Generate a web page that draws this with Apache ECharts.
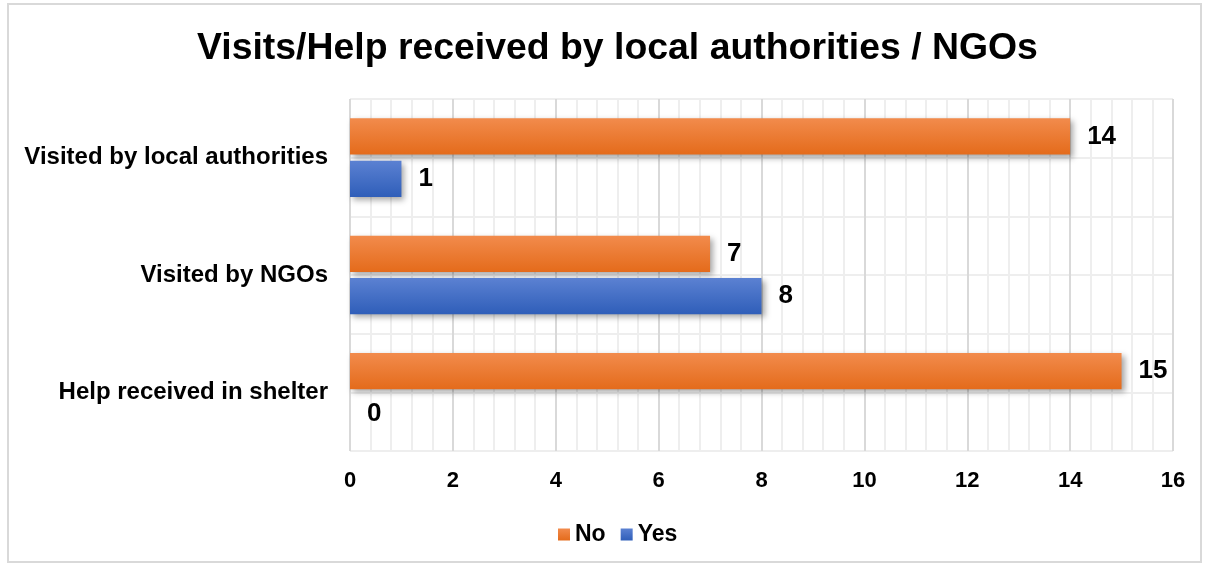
<!DOCTYPE html>
<html>
<head>
<meta charset="utf-8">
<script src="https://cdn.jsdelivr.net/npm/echarts@6/dist/echarts.min.js"></script>
<style>
  html, body { margin: 0; padding: 0; background: #fff; }
  #frame { position: absolute; left: 7px; top: 3px; width: 1195px; height: 560px; border: 2px solid #d9d9d9; box-sizing: border-box; }
  #chart { position: absolute; left: 0; top: 0; width: 1207px; height: 567px; }
</style>
</head>
<body>
<div id="frame"></div>
<div id="chart"></div>
<script>
// Survey answers per question
const categories = ['Visited by local authorities', 'Visited by NGOs', 'Help received in shelter'];
const noValues = [14, 7, 15];
const yesValues = [1, 8, 0];
const seriesNames = ['No', 'Yes'];

const font = '"Liberation Sans", Arial, sans-serif';

function grad(top, bottom) {
  return new echarts.graphic.LinearGradient(0, 0, 0, 1, [
    { offset: 0, color: top },
    { offset: 1, color: bottom }
  ]);
}

const barShadow = {
  shadowColor: 'rgba(0,0,0,0.35)',
  shadowBlur: 6,
  shadowOffsetX: 3,
  shadowOffsetY: 3
};

const labelStyle = {
  show: true,
  position: 'right',
  distance: 17,
  color: '#000',
  fontFamily: font,
  fontWeight: 'bold',
  fontSize: 26
};

const chart = echarts.init(document.getElementById('chart'));
chart.setOption({
  animation: false,
  title: {
    text: 'Visits/Help received by local authorities / NGOs',
    left: 192,
    top: 25,
    textStyle: { fontFamily: font, fontWeight: 'bold', fontSize: 37.4, color: '#000' }
  },
  legend: {
    data: seriesNames,
    top: 518,
    left: 553,
    itemWidth: 12,
    itemHeight: 12,
    itemGap: 15,
    icon: 'rect',
    textStyle: { fontFamily: font, fontWeight: 'bold', fontSize: 23, color: '#000' }
  },
  grid: { left: 350, right: 34, top: 99, bottom: 116 },
  xAxis: {
    type: 'value',
    min: 0,
    max: 16,
    interval: 2,
    axisLine: { show: false },
    axisTick: { show: false },
    axisLabel: { margin: 19, color: '#000', fontFamily: font, fontWeight: 'bold', fontSize: 22 },
    splitLine: { show: true, lineStyle: { color: '#d9d9d9', width: 2 } },
    minorTick: { show: false, splitNumber: 5 },
    minorSplitLine: { show: true, lineStyle: { color: '#eeeeee', width: 2 } }
  },
  yAxis: [
    {
      type: 'category',
      data: categories,
      inverse: true,
      axisLine: { show: false },
      axisTick: { show: false },
      axisLabel: { margin: 22, color: '#000', fontFamily: font, fontWeight: 'bold', fontSize: 24 },
      splitLine: { show: false }
    },
    {
      // half-category horizontal grid
      type: 'value',
      min: 0,
      max: 6,
      interval: 1,
      position: 'right',
      axisLine: { show: false },
      axisTick: { show: false },
      axisLabel: { show: false },
      splitLine: { show: true, lineStyle: { color: '#eeeeee', width: 2 } }
    }
  ],
  series: [
    {
      name: seriesNames[0],
      type: 'bar',
      data: noValues,
      barCategoryGap: '33%',
      barGap: '17%',
      itemStyle: Object.assign({ color: grad('#f28b4c', '#e46b1b') }, barShadow),
      label: labelStyle
    },
    {
      name: seriesNames[1],
      type: 'bar',
      data: yesValues,
      barCategoryGap: '33%',
      barGap: '17%',
      itemStyle: Object.assign({ color: grad('#5b81d2', '#2f5eb9') }, barShadow),
      label: labelStyle
    }
  ]
});
</script>
</body>
</html>
